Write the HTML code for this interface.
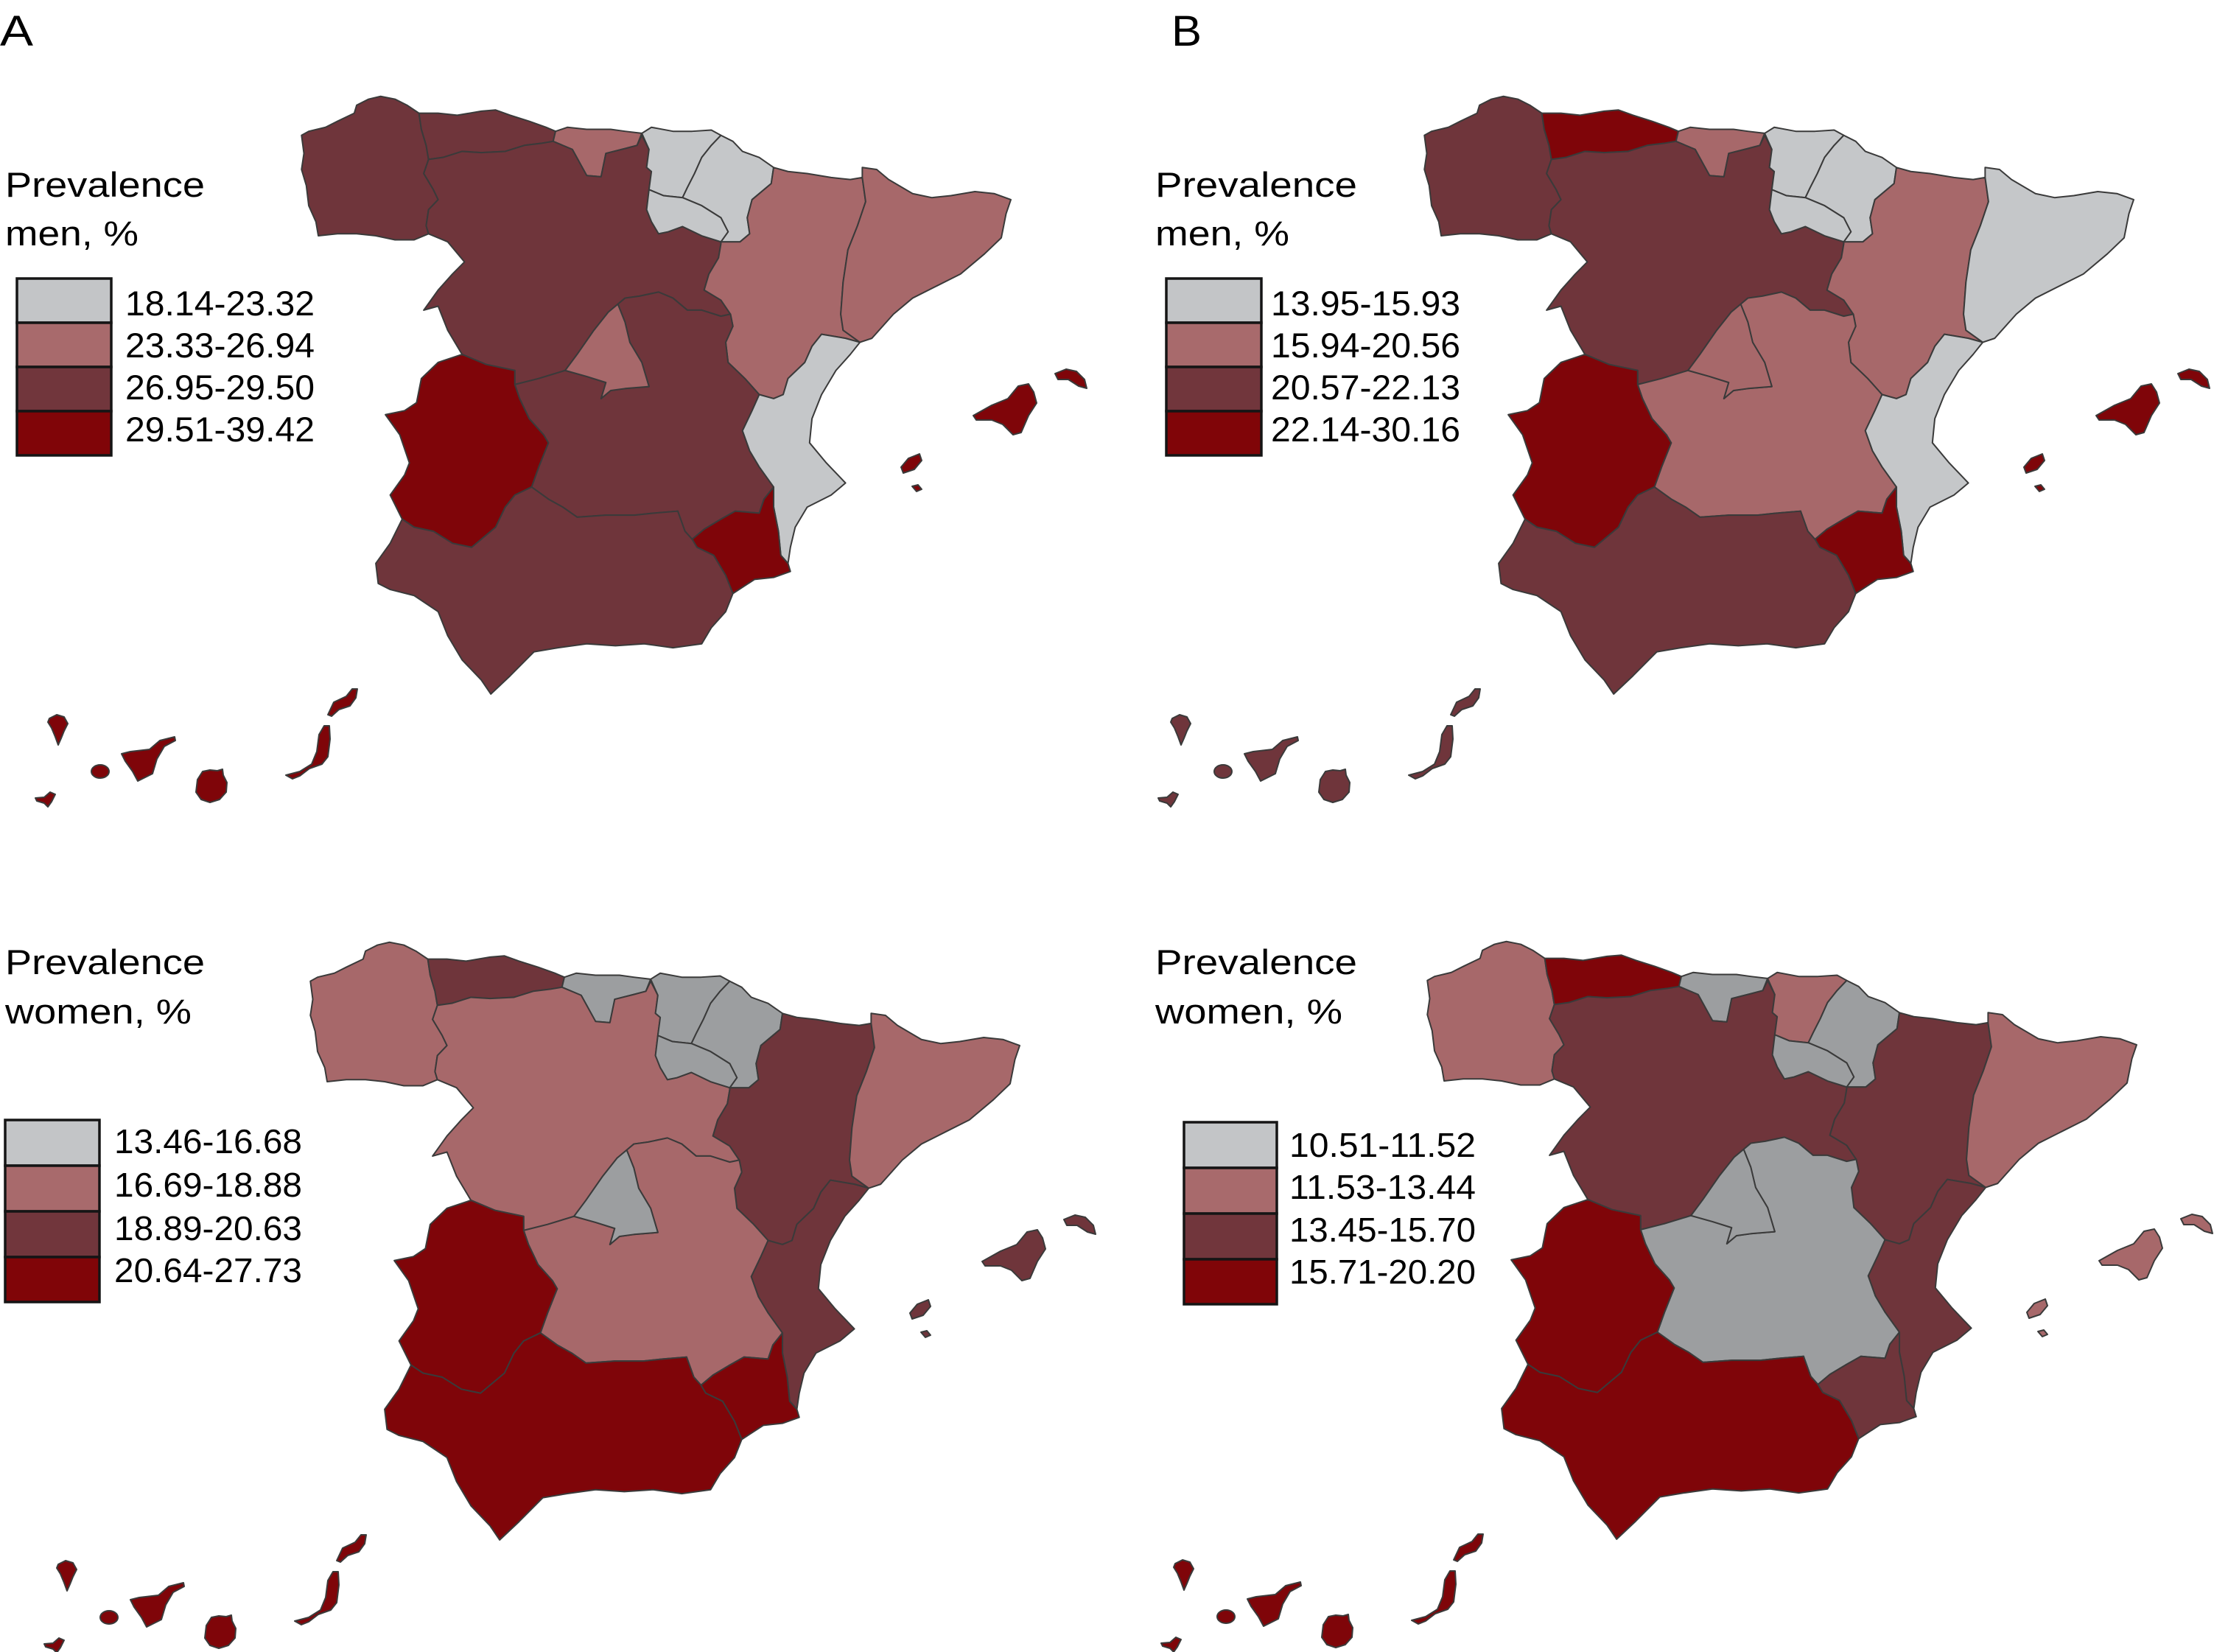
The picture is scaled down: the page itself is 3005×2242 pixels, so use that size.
<!DOCTYPE html>
<html>
<head>
<meta charset="utf-8">
<style>
  html,body{margin:0;padding:0;background:#fff;}
  svg{display:block;}
  text{font-family:"Liberation Sans",Arial,sans-serif;fill:#000;}
</style>
</head>
<body>
<svg width="3005" height="2242" viewBox="0 0 3005 2242" xmlns="http://www.w3.org/2000/svg">
<defs>
  <g id="regions-style"></g>
  <polygon id="gal" stroke="#3a3a3a" stroke-width="2" stroke-linejoin="round" vector-effect="non-scaling-stroke" points="45,135 60,125 95,115 120,100 155,80 160,60 185,45 210,38 240,45 265,60 290,80 295,120 305,160 310,195 300,230 320,270 330,295 310,320 305,360 310,380 280,395 240,395 200,385 160,380 120,380 80,385 75,350 60,310 55,260 45,220 50,180"/>
  <polygon id="ast" stroke="#3a3a3a" stroke-width="2" stroke-linejoin="round" vector-effect="non-scaling-stroke" points="290,80 330,80 370,85 420,75 450,72 480,85 520,100 555,115 575,125 570,150 545,155 510,160 470,175 420,178 380,175 340,190 310,195 305,160 295,120"/>
  <polygon id="can" stroke="#3a3a3a" stroke-width="2" stroke-linejoin="round" vector-effect="non-scaling-stroke" points="575,125 600,115 640,120 690,120 720,125 755,130 745,160 720,168 680,180 670,238 640,235 610,170 570,150"/>
  <polygon id="pv" stroke="#3a3a3a" stroke-width="2" stroke-linejoin="round" vector-effect="non-scaling-stroke" points="755,130 775,115 820,125 860,125 900,122 920,135 900,160 880,190 865,230 850,265 840,290 800,285 770,270 775,225 765,215 770,170"/>
  <polygon id="nav" stroke="#3a3a3a" stroke-width="2" stroke-linejoin="round" vector-effect="non-scaling-stroke" points="920,135 945,150 965,175 1000,190 1030,215 1025,255 985,295 975,340 980,380 960,400 920,400 935,375 920,340 880,310 840,290 850,265 865,230 880,190 900,160"/>
  <polygon id="rio" stroke="#3a3a3a" stroke-width="2" stroke-linejoin="round" vector-effect="non-scaling-stroke" points="770,270 800,285 840,290 880,310 920,340 935,375 920,400 880,385 840,362 810,375 790,380 775,350 765,320"/>
  <polygon id="ara" stroke="#3a3a3a" stroke-width="2" stroke-linejoin="round" vector-effect="non-scaling-stroke" points="1030,215 1060,225 1100,230 1150,240 1190,245 1215,240 1222,300 1205,360 1185,420 1175,500 1170,580 1175,620 1210,650 1180,640 1130,630 1110,660 1095,700 1060,740 1050,780 1030,790 1000,780 970,740 935,700 930,650 945,610 940,580 920,545 885,520 895,480 915,440 920,405 920,400 960,400 980,380 975,340 985,295 1025,255"/>
  <polygon id="cat" stroke="#3a3a3a" stroke-width="2" stroke-linejoin="round" vector-effect="non-scaling-stroke" points="1215,240 1215,215 1245,220 1270,245 1320,280 1360,290 1400,285 1450,275 1490,280 1525,295 1515,330 1505,390 1470,430 1420,480 1370,510 1320,540 1280,580 1250,620 1235,640 1210,650 1175,620 1170,580 1175,500 1185,420 1205,360 1222,300"/>
  <polygon id="val" stroke="#3a3a3a" stroke-width="2" stroke-linejoin="round" vector-effect="non-scaling-stroke" points="1210,650 1190,680 1160,720 1130,780 1110,840 1105,900 1140,950 1180,1000 1150,1030 1100,1060 1075,1110 1065,1160 1060,1200 1045,1180 1040,1120 1030,1060 1030,1010 1000,960 980,920 965,870 985,820 1000,780 1030,790 1050,780 1060,740 1095,700 1110,660 1130,630 1180,640"/>
  <polygon id="mur" stroke="#3a3a3a" stroke-width="2" stroke-linejoin="round" vector-effect="non-scaling-stroke" points="1030,1010 1030,1060 1040,1120 1045,1180 1060,1200 1065,1220 1030,1235 990,1240 945,1275 930,1230 905,1180 870,1160 860,1140 885,1115 920,1090 950,1070 1000,1075 1010,1040"/>
  <polygon id="clm" stroke="#3a3a3a" stroke-width="2" stroke-linejoin="round" vector-effect="non-scaling-stroke" points="720,540 750,535 790,525 820,540 850,570 880,570 920,585 940,580 945,610 930,650 935,700 970,740 1000,780 985,820 965,870 980,920 1000,960 1030,1010 1010,1040 1000,1075 950,1070 920,1090 885,1115 860,1140 845,1120 830,1070 780,1075 740,1080 680,1080 620,1085 590,1060 560,1040 525,1010 540,960 560,900 550,880 520,840 500,790 490,755 540,740 595,720 640,735 680,750 670,790 690,770 720,765 770,760 755,700 730,650 720,600 705,555"/>
  <polygon id="mad" stroke="#3a3a3a" stroke-width="2" stroke-linejoin="round" vector-effect="non-scaling-stroke" points="705,555 720,600 730,650 755,700 770,760 720,765 690,770 670,790 680,750 640,735 595,720 620,680 655,620 685,575"/>
  <polygon id="cyl" stroke="#3a3a3a" stroke-width="2" stroke-linejoin="round" vector-effect="non-scaling-stroke" points="310,195 340,190 380,175 420,178 470,175 510,160 545,155 570,150 610,170 640,235 670,238 680,180 720,168 745,160 755,135 770,170 765,215 775,225 770,270 765,320 775,350 790,380 810,375 840,362 880,385 920,400 920,405 915,440 895,480 885,520 920,545 940,580 920,585 880,570 850,570 820,540 790,525 750,535 720,540 705,555 685,575 655,620 620,680 595,720 540,740 490,755 490,720 430,705 380,680 350,620 330,560 300,570 330,520 360,480 385,450 350,400 310,380 305,360 310,320 330,295 320,270 300,230"/>
  <polygon id="ext" stroke="#3a3a3a" stroke-width="2" stroke-linejoin="round" vector-effect="non-scaling-stroke" points="380,680 430,705 490,720 490,755 500,790 520,840 550,880 560,900 540,960 525,1010 490,1030 470,1060 450,1110 400,1160 360,1150 320,1120 280,1110 255,1090 230,1030 260,980 270,950 250,880 220,830 260,820 285,800 295,740 330,700"/>
  <polygon id="and" stroke="#3a3a3a" stroke-width="2" stroke-linejoin="round" vector-effect="non-scaling-stroke" points="255,1090 280,1110 320,1120 360,1150 400,1160 450,1110 470,1060 490,1030 525,1010 560,1040 590,1060 620,1085 680,1080 740,1080 780,1075 830,1070 845,1120 860,1140 870,1160 905,1180 930,1230 945,1275 930,1320 900,1360 880,1400 820,1410 760,1400 700,1405 640,1400 580,1410 530,1420 480,1480 440,1525 420,1490 380,1440 350,1380 330,1320 280,1280 230,1265 205,1250 200,1200 230,1150"/>

  <g id="bal" stroke="#3a3a3a" stroke-width="2" stroke-linejoin="round">
    <polygon points="1321,564 1346,550 1368,541 1382,524 1396,521 1403,532 1407,547 1396,564 1386,587 1375,590 1361,576 1346,570 1325,570"/>
    <polygon points="1432,507 1447,501 1461,504 1472,515 1475,527 1464,524 1450,515 1436,515"/>
    <polygon points="1223,634 1233,622 1248,616 1251,625 1241,637 1226,642"/>
    <polygon points="1238,660 1246,658 1251,664 1244,667"/>
  </g>
  <g id="cnr" stroke="#3a3a3a" stroke-width="2" stroke-linejoin="round">
    <polygon points="67,975 77,970 87,973 92,982 87,992 83,1002 79,1011 75,1000 70,988 65,980"/>
    <polygon points="48,1083 60,1082 68,1075 75,1078 70,1088 65,1095 60,1090 50,1087"/>
    <ellipse cx="136" cy="1047" rx="12" ry="9"/>
    <polygon points="165,1023 177,1020 203,1017 217,1005 237,1000 238,1005 223,1013 213,1030 207,1050 187,1060 180,1047 170,1033"/>
    <polygon points="268,1058 275,1047 285,1045 295,1046 302,1044 303,1052 308,1062 307,1075 298,1085 285,1089 273,1085 266,1075"/>
    <polygon points="388,1052 407,1047 423,1037 430,1020 433,997 440,985 447,985 448,1003 445,1027 437,1037 420,1043 407,1053 397,1057"/>
    <polygon points="445,970 453,953 470,945 478,935 485,935 483,947 475,958 460,963 450,972"/>
  </g>
</defs>

<!-- ===================== Panel A top (men) ===================== -->
<g transform="translate(0,0)">
  <g transform="translate(380,110) scale(0.6505,0.5455)">
    <use href="#gal" fill="#6f353b"/>
    <use href="#ast" fill="#6f353b"/>
    <use href="#can" fill="#a7686a"/>
    <use href="#cyl" fill="#6f353b"/>
    <use href="#pv" fill="#c5c7c9"/>
    <use href="#nav" fill="#c5c7c9"/>
    <use href="#rio" fill="#c5c7c9"/>
    <use href="#ara" fill="#a7686a"/>
    <use href="#cat" fill="#a7686a"/>
    <use href="#clm" fill="#6f353b"/>
    <use href="#mad" fill="#a7686a"/>
    <use href="#val" fill="#c5c7c9"/>
    <use href="#mur" fill="#7f0509"/>
    <use href="#ext" fill="#7f0509"/>
    <use href="#and" fill="#6f353b"/>
  </g>
  <use href="#bal" fill="#7f0509"/>
  <use href="#cnr" fill="#7f0509"/>
</g>

<!-- ===================== Panel B top (men) ===================== -->
<g transform="translate(1524,0)">
  <g transform="translate(380,110) scale(0.6505,0.5455)">
    <use href="#gal" fill="#6f353b"/>
    <use href="#ast" fill="#7f0509"/>
    <use href="#can" fill="#a7686a"/>
    <use href="#cyl" fill="#6f353b"/>
    <use href="#pv" fill="#c5c7c9"/>
    <use href="#nav" fill="#c5c7c9"/>
    <use href="#rio" fill="#c5c7c9"/>
    <use href="#ara" fill="#a7686a"/>
    <use href="#cat" fill="#c5c7c9"/>
    <use href="#clm" fill="#a7686a"/>
    <use href="#mad" fill="#a7686a"/>
    <use href="#val" fill="#c5c7c9"/>
    <use href="#mur" fill="#7f0509"/>
    <use href="#ext" fill="#7f0509"/>
    <use href="#and" fill="#6f353b"/>
  </g>
  <use href="#bal" fill="#7f0509"/>
  <use href="#cnr" fill="#6f353b"/>
</g>

<!-- ===================== Panel A bottom (women) ===================== -->
<g transform="translate(12,1148)">
  <g transform="translate(380,110) scale(0.6505,0.5455)">
    <use href="#gal" fill="#a7686a"/>
    <use href="#ast" fill="#6f353b"/>
    <use href="#can" fill="#9c9ea0"/>
    <use href="#cyl" fill="#a7686a"/>
    <use href="#pv" fill="#9c9ea0"/>
    <use href="#nav" fill="#9c9ea0"/>
    <use href="#rio" fill="#9c9ea0"/>
    <use href="#ara" fill="#6f353b"/>
    <use href="#cat" fill="#a7686a"/>
    <use href="#clm" fill="#a7686a"/>
    <use href="#mad" fill="#9c9ea0"/>
    <use href="#val" fill="#6f353b"/>
    <use href="#mur" fill="#7f0509"/>
    <use href="#ext" fill="#7f0509"/>
    <use href="#and" fill="#7f0509"/>
  </g>
  <use href="#bal" fill="#6f353b"/>
  <use href="#cnr" fill="#7f0509"/>
</g>

<!-- ===================== Panel B bottom (women) ===================== -->
<g transform="translate(1528,1147)">
  <g transform="translate(380,110) scale(0.6505,0.5455)">
    <use href="#gal" fill="#a7686a"/>
    <use href="#ast" fill="#7f0509"/>
    <use href="#can" fill="#9c9ea0"/>
    <use href="#cyl" fill="#6f353b"/>
    <use href="#pv" fill="#a7686a"/>
    <use href="#nav" fill="#9c9ea0"/>
    <use href="#rio" fill="#9c9ea0"/>
    <use href="#ara" fill="#6f353b"/>
    <use href="#cat" fill="#a7686a"/>
    <use href="#clm" fill="#9c9ea0"/>
    <use href="#mad" fill="#9c9ea0"/>
    <use href="#val" fill="#6f353b"/>
    <use href="#mur" fill="#6f353b"/>
    <use href="#ext" fill="#7f0509"/>
    <use href="#and" fill="#7f0509"/>
  </g>
  <use href="#bal" fill="#a7686a"/>
  <use href="#cnr" fill="#7f0509"/>
</g>

<!-- ===================== Labels & legends ===================== -->
<text x="0" y="62" font-size="58" textLength="45" lengthAdjust="spacingAndGlyphs">A</text>
<text x="1590" y="62" font-size="58" textLength="41" lengthAdjust="spacingAndGlyphs">B</text>

<!-- Top A legend -->
<text x="7" y="267" font-size="47" textLength="271" lengthAdjust="spacingAndGlyphs">Prevalence</text>
<text x="7" y="333" font-size="47" textLength="181" lengthAdjust="spacingAndGlyphs">men, %</text>
<g stroke="#151515" stroke-width="3.5">
  <rect x="23" y="378" width="128" height="60" fill="#c3c5c7"/>
  <rect x="23" y="438" width="128" height="60" fill="#a86a6c"/>
  <rect x="23" y="498" width="128" height="60" fill="#71363c"/>
  <rect x="23" y="558" width="128" height="60" fill="#800508"/>
</g>
<g font-size="47">
  <text x="170" y="428" textLength="257" lengthAdjust="spacingAndGlyphs">18.14-23.32</text>
  <text x="170" y="485" textLength="257" lengthAdjust="spacingAndGlyphs">23.33-26.94</text>
  <text x="170" y="542" textLength="257" lengthAdjust="spacingAndGlyphs">26.95-29.50</text>
  <text x="170" y="599" textLength="257" lengthAdjust="spacingAndGlyphs">29.51-39.42</text>
</g>

<!-- Top B legend -->
<text x="1568" y="267" font-size="47" textLength="274" lengthAdjust="spacingAndGlyphs">Prevalence</text>
<text x="1568" y="333" font-size="47" textLength="182" lengthAdjust="spacingAndGlyphs">men, %</text>
<g stroke="#151515" stroke-width="3.5">
  <rect x="1583" y="378" width="129" height="60" fill="#c3c5c7"/>
  <rect x="1583" y="438" width="129" height="60" fill="#a86a6c"/>
  <rect x="1583" y="498" width="129" height="60" fill="#71363c"/>
  <rect x="1583" y="558" width="129" height="60" fill="#800508"/>
</g>
<g font-size="47">
  <text x="1725" y="428" textLength="257" lengthAdjust="spacingAndGlyphs">13.95-15.93</text>
  <text x="1725" y="485" textLength="257" lengthAdjust="spacingAndGlyphs">15.94-20.56</text>
  <text x="1725" y="542" textLength="257" lengthAdjust="spacingAndGlyphs">20.57-22.13</text>
  <text x="1725" y="599" textLength="257" lengthAdjust="spacingAndGlyphs">22.14-30.16</text>
</g>

<!-- Bottom A legend -->
<text x="7" y="1322" font-size="47" textLength="271" lengthAdjust="spacingAndGlyphs">Prevalence</text>
<text x="7" y="1389" font-size="47" textLength="253" lengthAdjust="spacingAndGlyphs">women, %</text>
<g stroke="#151515" stroke-width="3.5">
  <rect x="7" y="1520" width="128" height="62" fill="#c3c5c7"/>
  <rect x="7" y="1582" width="128" height="62" fill="#a86a6c"/>
  <rect x="7" y="1644" width="128" height="62" fill="#71363c"/>
  <rect x="7" y="1706" width="128" height="61" fill="#800508"/>
</g>
<g font-size="46">
  <text x="155" y="1565" textLength="255" lengthAdjust="spacingAndGlyphs">13.46-16.68</text>
  <text x="155" y="1624" textLength="255" lengthAdjust="spacingAndGlyphs">16.69-18.88</text>
  <text x="155" y="1683" textLength="255" lengthAdjust="spacingAndGlyphs">18.89-20.63</text>
  <text x="155" y="1740" textLength="255" lengthAdjust="spacingAndGlyphs">20.64-27.73</text>
</g>

<!-- Bottom B legend -->
<text x="1568" y="1322" font-size="47" textLength="274" lengthAdjust="spacingAndGlyphs">Prevalence</text>
<text x="1568" y="1389" font-size="47" textLength="254" lengthAdjust="spacingAndGlyphs">women, %</text>
<g stroke="#151515" stroke-width="3.5">
  <rect x="1607" y="1523" width="126" height="62" fill="#c3c5c7"/>
  <rect x="1607" y="1585" width="126" height="62" fill="#a86a6c"/>
  <rect x="1607" y="1647" width="126" height="62" fill="#71363c"/>
  <rect x="1607" y="1709" width="126" height="61" fill="#800508"/>
</g>
<g font-size="46">
  <text x="1750" y="1570" textLength="253" lengthAdjust="spacingAndGlyphs">10.51-11.52</text>
  <text x="1750" y="1627" textLength="253" lengthAdjust="spacingAndGlyphs">11.53-13.44</text>
  <text x="1750" y="1685" textLength="253" lengthAdjust="spacingAndGlyphs">13.45-15.70</text>
  <text x="1750" y="1742" textLength="253" lengthAdjust="spacingAndGlyphs">15.71-20.20</text>
</g>
</svg>
</body>
</html>
